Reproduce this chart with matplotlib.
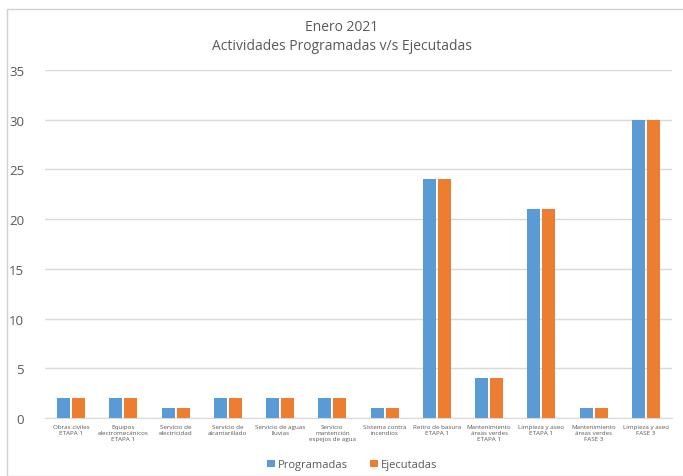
import matplotlib
matplotlib.use("Agg")
import matplotlib.pyplot as plt
import numpy as np
from matplotlib.patches import Rectangle

categories = [
    "Obras civiles\nETAPA 1",
    "Equipos\nelectromecánicos\nETAPA 1",
    "Servicio de\nelectricidad",
    "Servicio de\nalcantarillado",
    "Servicio de aguas\nlluvias",
    "Servicio\nmantención\nespejos de agua",
    "Sistema contra\nincendios",
    "Retiro de basura\nETAPA 1",
    "Mantenimiento\náreas verdes\nETAPA 1",
    "Limpieza y aseo\nETAPA 1",
    "Mantenimiento\náreas verdes\nFASE 3",
    "Limpieza y aseo\nFASE 3",
]
programadas = [2, 2, 1, 2, 2, 2, 1, 24, 4, 21, 1, 30]
ejecutadas = [2, 2, 1, 2, 2, 2, 1, 24, 4, 21, 1, 30]
yticks = [0, 5, 10, 15, 20, 25, 30, 35]

plt.rcParams['font.family'] = ['Open Sans', 'DejaVu Sans']

W, H = 683, 477
fig = plt.figure(figsize=(W/100, H/100), dpi=100)
fig.patches.append(Rectangle((7/W, 0), 1.5, 1 - 10/H, transform=fig.transFigure,
                             fill=False, edgecolor="#D0D0D0", linewidth=1.0))
ax = fig.add_axes([45/W, 1 - 419/H, 627/W, (419 - 71)/H])

x = np.arange(len(categories))
bw = 0.25
blue = "#5B9BD5"
orange = "#ED7D31"
ax.bar(x - bw/2 - 0.02, programadas, bw, color=blue, label="Programadas", zorder=3)
ax.bar(x + bw/2 + 0.02, ejecutadas, bw, color=orange, label="Ejecutadas", zorder=3)

ax.set_xlim(-0.5, len(categories) - 0.5)
ax.set_ylim(0, 35)
ax.set_yticks(yticks)
ax.yaxis.grid(True, color="#D9D9D9", linewidth=1.0, zorder=0)
ax.set_axisbelow(True)
for s in ["top", "right", "left"]:
    ax.spines[s].set_visible(False)
ax.spines["bottom"].set_color("#D9D9D9")
ax.tick_params(axis="y", length=0, labelsize=9.5, labelcolor="#595959", pad=15)
ax.tick_params(axis="x", length=0, labelsize=4.5, labelcolor="#595959", pad=4)
ax.set_xticks(x)
ax.set_xticklabels(categories, linespacing=1.3)

fig.text(0.5, 1 - 37/H, "Enero 2021\nActividades Programadas v/s Ejecutadas",
         ha="center", va="center", fontsize=10, color="#595959", linespacing=1.35)

ax.legend(loc="center", bbox_to_anchor=(0.49, -0.135), ncol=2, frameon=False,
          fontsize=8, labelcolor="#595959", handlelength=0.7, handleheight=0.7,
          handletextpad=0.3, columnspacing=2.0)

fig.savefig("out.png", dpi=100)
